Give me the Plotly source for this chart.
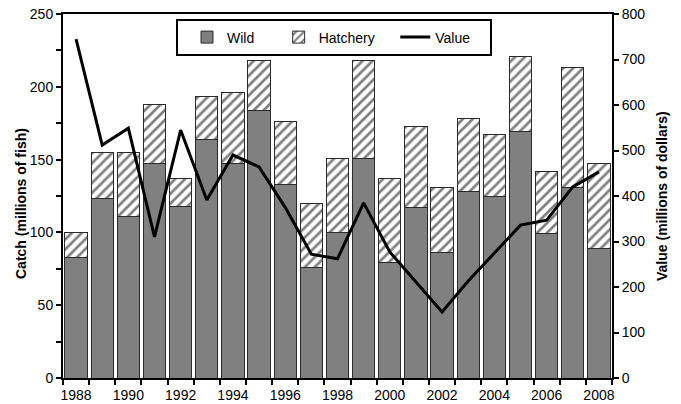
import plotly.graph_objects as go

# Annual catch (millions of fish) and ex-vessel value (millions of dollars)
years = list(range(1988, 2009))
wild = [83, 123, 111, 147, 118, 164, 147, 184, 133, 76, 100,
        151, 79, 117, 86, 128, 125, 169, 99, 131, 89]
hatchery = [17, 32, 44, 41, 19, 29, 49, 34, 43, 44, 51,
            67, 58, 56, 45, 50, 42, 52, 43, 82, 58]
value = [745, 512, 549, 310, 545, 391, 490, 464, 375, 272, 262,
         385, 277, 210, 145, 213, 274, 336, 347, 420, 453]
year_labels = [y for y in years if y % 2 == 0]

FONT = "Arial, Liberation Sans, sans-serif"
BAR_EDGE = dict(color="#2a2a2a", width=1)
NBSP = "\u00a0"

fig = go.Figure()
fig.add_trace(go.Bar(
    x=years, y=wild, name="Wild" + NBSP * 5,
    marker=dict(color="#808080", line=BAR_EDGE),
))
fig.add_trace(go.Bar(
    x=years, y=hatchery, name="Hatchery" + NBSP * 4,
    marker=dict(color="white", line=BAR_EDGE,
                pattern=dict(shape="/", fgcolor="black", bgcolor="white",
                             size=7, solidity=0.38)),
))
fig.add_trace(go.Scatter(
    x=years, y=value, name="Value", yaxis="y2", mode="lines",
    line=dict(color="black", width=3),
))

axis_common = dict(
    showline=True, linecolor="black", linewidth=2,
    showgrid=False, zeroline=False, automargin=False,
    tickfont=dict(family=FONT, size=14, color="black"),
)

# plot-area pixel geometry used to place the legend frame
L, R, T, B = 63, 69, 14, 26
PW, PH = 681 - L - R, 404 - T - B


def px_x(x):
    return (x - L) / PW


def px_y(y):
    return (404 - B - y) / PH


fig.update_layout(
    width=681, height=404,
    margin=dict(l=L, r=R, t=T, b=B, autoexpand=False),
    paper_bgcolor="white", plot_bgcolor="white",
    barmode="stack", bargap=0.15,
    font=dict(family=FONT, size=14, color="black"),
    xaxis=dict(
        **axis_common,
        range=[1987.5, 2008.5],
        tickvals=year_labels, ticktext=[str(y) for y in year_labels],
        ticks="", mirror=True, ticklabelstandoff=3,
        minor=dict(tick0=1987.5, dtick=1, ticks="outside",
                   ticklen=5, tickwidth=1.5, tickcolor="black"),
    ),
    yaxis=dict(
        **axis_common,
        range=[0, 250], dtick=50,
        ticks="outside", ticklen=5, tickwidth=1.5, tickcolor="black",
        minor=dict(dtick=25, ticks="outside", ticklen=5,
                   tickwidth=1.5, tickcolor="black"),
    ),
    yaxis2=dict(
        **axis_common,
        overlaying="y", side="right",
        range=[0, 800], dtick=100,
        ticks="outside", ticklen=5, tickwidth=1.5, tickcolor="black",
    ),
    legend=dict(
        orientation="h", x=px_x(187), y=px_y(37.5),
        xanchor="left", yanchor="middle",
        bgcolor="rgba(0,0,0,0)", borderwidth=0,
        font=dict(family=FONT, size=14, color="black"),
        itemwidth=30, traceorder="normal",
    ),
    shapes=[
        dict(type="rect", xref="paper", yref="paper", layer="above",
             x0=px_x(177), x1=px_x(491), y0=px_y(55), y1=px_y(20),
             line=dict(color="black", width=2), fillcolor="white"),
    ],
    annotations=[
        dict(text="<b>Catch (millions of fish)</b>", textangle=-90,
             xref="paper", yref="paper", x=0, y=px_y(204), xshift=-42,
             xanchor="center", yanchor="middle", showarrow=False,
             font=dict(family=FONT, size=14, color="black")),
        dict(text="<b>Value (millions of dollars)</b>", textangle=-90,
             xref="paper", yref="paper", x=1, y=px_y(196), xshift=50,
             xanchor="center", yanchor="middle", showarrow=False,
             font=dict(family=FONT, size=14, color="black")),
    ],
)

fig.write_html("out.html")
